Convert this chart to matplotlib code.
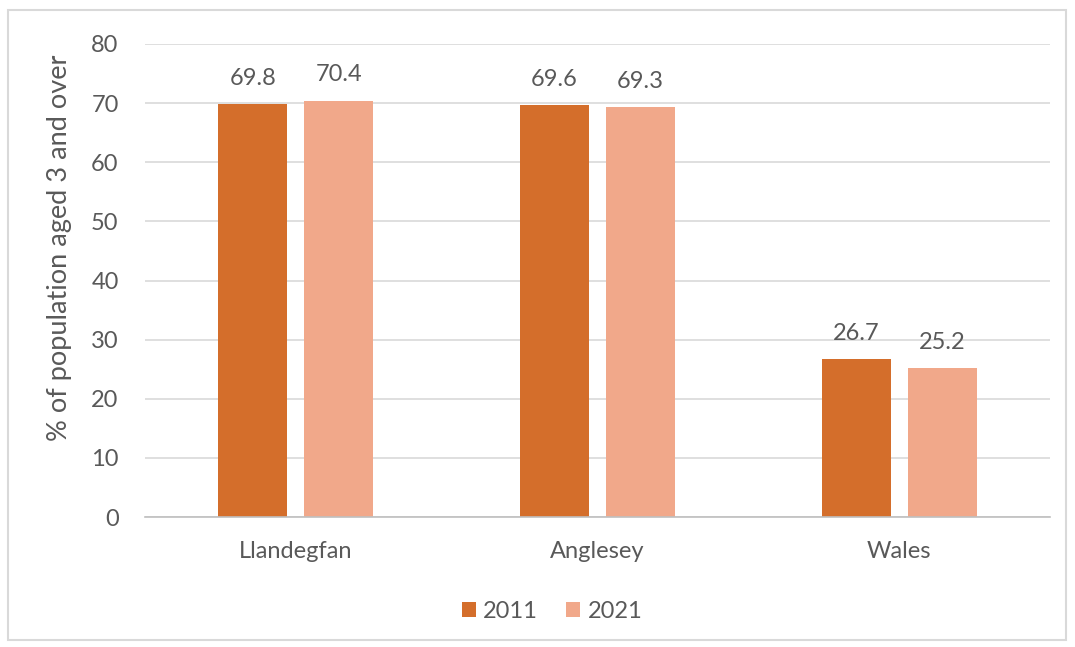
import matplotlib.pyplot as plt
import numpy as np
from matplotlib.patches import Rectangle

places = ['Llandegfan', 'Anglesey', 'Wales']
years = ['2011', '2021']
pct_2011 = [69.8, 69.6, 26.7]
pct_2021 = [70.4, 69.3, 25.2]

c2011 = '#D46E2B'
c2021 = '#F1A88A'
grey = '#595959'

plt.rcParams['font.family'] = ['Lato', 'DejaVu Sans']

fig = plt.figure(figsize=(10.75, 6.47), dpi=100)
ax = fig.add_axes([0.1349, 0.2009, 0.8418, 0.7311])

# outer border like the chart area frame
fig.patches.append(Rectangle((8/1075, 7/647), 1058/1075, 630/647, transform=fig.transFigure,
                             fill=False, edgecolor='#D9D9D9', linewidth=1.5))

x = np.arange(len(places))
w = 0.229
off = 0.1425
b1 = ax.bar(x - off, pct_2011, w, color=c2011, label=years[0], zorder=3)
b2 = ax.bar(x + off, pct_2021, w, color=c2021, label=years[1], zorder=3)

for bars, vals in [(b1, pct_2011), (b2, pct_2021)]:
    for b, v in zip(bars, vals):
        ax.annotate(f'{v:.1f}', (b.get_x() + b.get_width() / 2, v), xytext=(0, 11),
                    textcoords='offset points', ha='center', va='bottom',
                    fontsize=17, color=grey)

ax.set_xlim(-0.5, 2.5)
ax.set_ylim(0, 80)
ax.set_yticks(range(0, 81, 10))
ax.set_xticks(x)
ax.set_xticklabels(places)
ax.tick_params(axis='both', length=0, labelsize=17, labelcolor=grey)
ax.tick_params(axis='x', pad=17)
ax.tick_params(axis='y', pad=19)
ax.grid(axis='y', color='#D9D9D9', linewidth=1.2, zorder=0)
for s in ['top', 'right', 'left']:
    ax.spines[s].set_visible(False)
ax.spines['bottom'].set_color('#BFBFBF')
ax.spines['bottom'].set_linewidth(1.2)
ax.spines['bottom'].set_zorder(4)

fig.text(59/1075, 1 - 248/647, '% of population aged 3 and over', rotation=90,
         ha='center', va='center', fontsize=19.5, color=grey)

fig.legend(loc='center', bbox_to_anchor=(552/1075, 1 - 611/647), ncol=2, frameon=False,
           fontsize=17, labelcolor=grey, handlelength=0.6, handleheight=0.6,
           handletextpad=0.3, columnspacing=1.2)

fig.savefig('out.png', dpi=100)
